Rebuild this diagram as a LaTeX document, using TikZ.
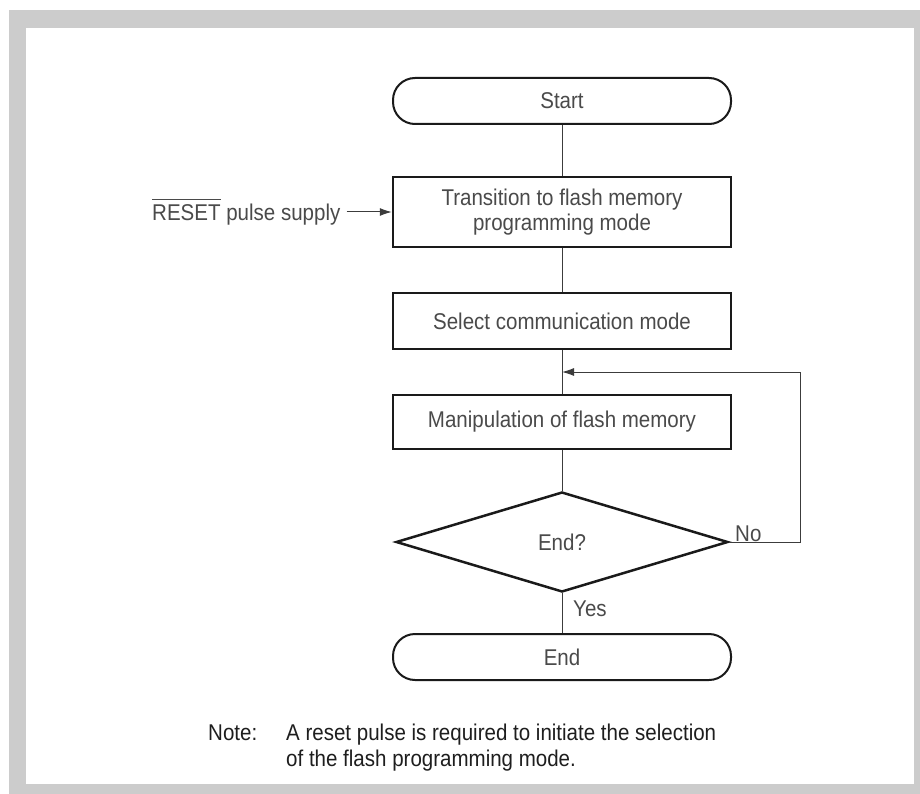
\documentclass[tikz,border=0pt]{standalone}
\usepackage{fontspec}
\setmainfont{Liberation Sans}[FakeStretch=0.9]
\usetikzlibrary{arrows.meta,shapes.geometric}
\definecolor{framegray}{HTML}{CCCCCC}
\definecolor{txt}{HTML}{4A4A4A}
\definecolor{notetxt}{HTML}{1E1E1E}
\definecolor{ink}{HTML}{1A1A1A}
\begin{document}
\begin{tikzpicture}[x=1pt,y=-1pt,
  every node/.style={font=\fontsize{22.8}{25}\selectfont, text=txt},
  procbox/.style={draw=ink, line width=2.5pt, minimum width=338pt, inner sep=0pt, align=center},
  termbox/.style={draw=ink, line width=2pt, rounded corners=22pt, minimum width=338pt, minimum height=46pt, inner sep=0pt},
  decis/.style={draw=ink, line width=2.5pt, diamond, minimum width=332pt, minimum height=100pt, aspect=3.3, inner sep=0pt},
  conn/.style={draw=ink!85, line width=1pt},
  arr/.style={conn, -{Latex[length=12pt,width=8pt]}},
  lbl/.style={inner sep=0pt, anchor=base west},
  notelbl/.style={inner sep=0pt, anchor=base west, text=notetxt},
]
\useasboundingbox (0,0) rectangle (920,794);
\fill[white] (0,0) rectangle (920,794);
\fill[framegray] (9,10) rectangle (920,794);
\fill[white] (26,28) rectangle (914,784);

\node[termbox] (start) at (562,101) {Start};
\node[procbox, minimum height=70pt] (trans) at (562,212) {Transition to flash memory\\programming mode};
\node[procbox, minimum height=56pt] (sel) at (562,321) {Select communication mode};
\node[procbox, minimum height=54pt] (manip) at (562,422) {Manipulation of flash memory};
\node[decis] (dec) at (562,542) {End?};
\node[termbox] (endn) at (562,657) {End};

\node[inner sep=0pt, anchor=west] (reset) at (152,212) {\ensuremath{\overline{\vphantom{\rule{0pt}{20pt}}\mbox{RESET}}} pulse supply};

\draw[conn] (start) -- (trans);
\draw[conn] (trans) -- (sel);
\draw[conn] (sel) -- (manip);
\draw[conn] (manip) -- (dec);
\draw[conn] (dec) -- (endn);
\draw[arr] ([xshift=6pt]reset.east) -- (trans.west);

\coordinate (fbA) at (800,542);
\coordinate (fbB) at (800,372);
\coordinate (fbJ) at (562,372);
\draw[arr] (dec.east) -- (fbA) -- (fbB) -- (fbJ);

\node[lbl] (no) at (735,541) {No};
\node[lbl] (yes) at (573,616) {Yes};

\node[notelbl] (note) at (208,740) {Note:};
\node[notelbl] (noteA) at (286,740) {A reset pulse is required to initiate the selection};
\node[notelbl] (noteB) at (286,766.5) {of the flash programming mode.};
\end{tikzpicture}
\end{document}
